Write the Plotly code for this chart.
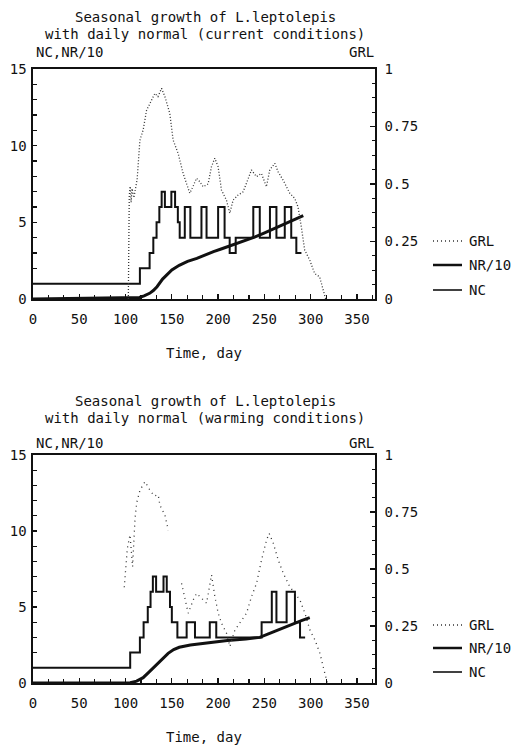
import plotly.graph_objects as go

W, H = 518, 746

# ---------------- data: current conditions (top) ----------------
nr_cur_days = [0, 115.5, 126, 130, 133.5, 136.5, 139, 142.5, 149.5, 153.5, 156.5, 158.5, 164, 170,
               182, 187.5, 200, 207, 212.5, 219, 238, 245, 256, 263, 272, 279, 284.5, 290]
nr_cur_vals = [1, 2, 3, 4, 5, 6, 7, 6, 7, 6, 5, 4, 6, 4,
               6, 4, 6, 4, 3, 4, 6, 4, 6, 4, 6, 4, 3, 3]

nc_cur_days = [0, 105, 115, 120, 126, 130, 134, 140, 145, 150, 158, 167, 177, 186, 195, 204,
               213, 222, 231, 240, 249, 258, 267, 276, 285, 292]
nc_cur_vals = [0, 0.05, 0.1, 0.2, 0.37, 0.55, 0.8, 1.3, 1.6, 1.9, 2.2, 2.45, 2.65, 2.88, 3.09, 3.28,
               3.46, 3.65, 3.85, 4.05, 4.28, 4.52, 4.76, 5.0, 5.22, 5.44]

grl_cur_days = [103, 103.5, 104, 105, 106, 107, 109, 112.5, 115.5, 119, 122.7, 126.3, 131.7, 135,
                138.9, 142.5, 147.8, 151.4, 156.8, 162.2, 166, 169.4, 173, 176.6, 180.2, 183.8,
                189.2, 192.8, 196.4, 200, 203.6, 209, 212.6, 216.2, 221.6, 227, 230.6, 236, 241.4,
                246.8, 252.2, 255.8, 261.2, 264.8, 270.2, 277.4, 282.7, 286.3, 289.9, 293.5, 298.9,
                304.3, 309.7, 313.3, 316.2]
grl_cur_vals = [0, 0.3, 0.45, 0.49, 0.42, 0.48, 0.44, 0.52, 0.69, 0.735, 0.82, 0.85, 0.894, 0.88,
                0.916, 0.88, 0.807, 0.691, 0.633, 0.546, 0.5, 0.46, 0.49, 0.525, 0.51, 0.488,
                0.5, 0.575, 0.612, 0.575, 0.474, 0.43, 0.373, 0.43, 0.452, 0.466, 0.503, 0.561, 0.532,
                0.546, 0.488, 0.561, 0.59, 0.553, 0.517, 0.46, 0.438, 0.401, 0.314, 0.213, 0.17,
                0.111, 0.096, 0.04, 0]

# ---------------- data: warming conditions (bottom) ----------------
nr_warm_days = [0, 105, 115.5, 119.5, 124, 127, 129.5, 133, 141, 144.5, 148, 150, 156, 166, 175,
                191, 198, 247, 258, 263, 274, 283, 288.5, 294]
nr_warm_vals = [1, 2, 3, 4, 5, 6, 7, 6, 7, 6, 5, 4, 3, 4, 3,
                4, 3, 4, 6, 4, 6, 4, 3, 3]

nc_warm_days = [0, 105, 112, 119, 125, 130, 135, 140, 146, 152, 158, 170, 190, 210, 230, 245,
                255, 265, 280, 290, 299]
nc_warm_vals = [0, 0.02, 0.12, 0.35, 0.7, 1.0, 1.3, 1.6, 1.95, 2.2, 2.35, 2.5, 2.65, 2.8, 2.9, 3.0,
                3.25, 3.5, 3.9, 4.1, 4.3]

grl_warm_days = [98.6, 101.9, 104.8, 107.6, 110.2, 112, 115.6, 121, 126.3, 131, 135.3, 137.1, 142.5,
                 146.1, None, 160.5, 164.1, 167.7, 173.1, 176.7, 180.3, 187.5, 192.9, 196.5, 200.1,
                 203.7, 209.1, 212.7, 218.1, 223.5, 230.7, 236.1, 241.5, 246.9, 252.3, 255.2, 259.6,
                 265, 270.4, 277.5, 283, 288.4, 293.8, 299.2, 304.6, 310, 313.6, 318]
grl_warm_vals = [0.42, 0.59, 0.65, 0.51, 0.72, 0.79, 0.846, 0.883, 0.846, 0.82, 0.825, 0.78, 0.737,
                 0.67, None, 0.437, 0.364, 0.306, 0.364, 0.393, 0.379, 0.35, 0.474, 0.379, 0.306,
                 0.262, 0.218, 0.16, 0.232, 0.262, 0.306, 0.379, 0.437, 0.539, 0.627, 0.656, 0.613,
                 0.539, 0.481, 0.422, 0.393, 0.364, 0.306, 0.232, 0.189, 0.13, 0.07, 0]

x_ticks = [0, 50, 100, 150, 200, 250, 300, 350]
left_ticks = [0, 5, 10, 15]
right_ticks = [0, 0.25, 0.5, 0.75, 1]
right_labels = ["0", "0.25", "0.5", "0.75", "1"]

titles = [("Seasonal growth of L.leptolepis", "with daily normal (current conditions)"),
          ("Seasonal growth of L.leptolepis", "with daily normal (warming conditions)")]
legend_names = ["GRL", "NR/10", "NC"]

FONT = "DejaVu Sans Mono"
FS = 14
INK = "#111111"


def px(x):
    return x / W


def py(y):
    return 1 - y / H


fig = go.Figure()

# top panel traces
fig.add_trace(go.Scatter(x=grl_cur_days, y=grl_cur_vals, xaxis="x", yaxis="y2", mode="lines",
                         line=dict(color="#333333", width=1.3, dash="1px,2px"), showlegend=False))
fig.add_trace(go.Scatter(x=nr_cur_days, y=nr_cur_vals, xaxis="x", yaxis="y", mode="lines",
                         line=dict(color=INK, width=2, shape="hv"), showlegend=False))
fig.add_trace(go.Scatter(x=nc_cur_days, y=nc_cur_vals, xaxis="x", yaxis="y", mode="lines",
                         line=dict(color=INK, width=3), showlegend=False))

# bottom panel traces
fig.add_trace(go.Scatter(x=grl_warm_days, y=grl_warm_vals, xaxis="x2", yaxis="y4", mode="lines",
                         line=dict(color="#333333", width=1.3, dash="1px,4px"), showlegend=False,
                         connectgaps=False))
fig.add_trace(go.Scatter(x=nr_warm_days, y=nr_warm_vals, xaxis="x2", yaxis="y3", mode="lines",
                         line=dict(color=INK, width=2, shape="hv"), showlegend=False))
fig.add_trace(go.Scatter(x=nc_warm_days, y=nc_warm_vals, xaxis="x2", yaxis="y3", mode="lines",
                         line=dict(color=INK, width=3), showlegend=False))

xdom = [px(33), px(375)]
top_dom = [py(299), py(69)]
bot_dom = [py(683), py(455)]

xcommon = dict(range=[0, 369.5], domain=xdom, tickvals=x_ticks, ticks="inside", ticklen=5,
               tickwidth=1.3, tickcolor=INK, showline=True, linecolor=INK, linewidth=1.6,
               mirror=True, showgrid=False, zeroline=False, ticklabelstandoff=7, automargin=False,
               minor=dict(ticks="inside", dtick=50 / 3, tick0=0, ticklen=4, tickcolor=INK,
                          tickwidth=1.1, showgrid=False),
               tickfont=dict(family=FONT, size=FS, color=INK))
yleft = dict(range=[0, 15], tickvals=left_ticks, ticks="inside", ticklen=4, tickwidth=1.2,
             tickcolor=INK, showline=True, linecolor=INK, linewidth=1.6, showgrid=False,
             zeroline=False, ticklabelstandoff=2, automargin=False,
             minor=dict(ticks="inside", dtick=1, ticklen=4, tickcolor=INK, tickwidth=1.1,
                        showgrid=False),
             tickfont=dict(family=FONT, size=FS, color=INK))
yright = dict(range=[0, 1], side="right", tickvals=right_ticks, ticktext=right_labels,
              ticks="inside", ticklen=5, tickwidth=1.3, tickcolor=INK, showline=True,
              linecolor=INK, linewidth=1.6, showgrid=False, zeroline=False, ticklabelstandoff=5,
              automargin=False,
              minor=dict(ticks="inside", dtick=0.0625, ticklen=3, tickcolor=INK, tickwidth=1.1,
                         showgrid=False),
              tickfont=dict(family=FONT, size=FS, color=INK))

fig.update_layout(
    width=W, height=H, margin=dict(l=0, r=0, t=0, b=0, autoexpand=False),
    paper_bgcolor="white", plot_bgcolor="white", showlegend=False,
    font=dict(family=FONT, size=FS, color=INK),
    xaxis=dict(xcommon, anchor="y"),
    yaxis=dict(yleft, domain=top_dom, anchor="x"),
    yaxis2=dict(yright, overlaying="y", anchor="x"),
    xaxis2=dict(xcommon, anchor="y3"),
    yaxis3=dict(yleft, domain=bot_dom, anchor="x2"),
    yaxis4=dict(yright, overlaying="y3", anchor="x2"),
)

annotations = []
shapes = []
panels = [
    dict(t1=17, t2=34, lab=52, xt=353, leg=[241, 265, 290]),
    dict(t1=401, t2=418, lab=443, xt=737, leg=[625, 648, 672]),
]
leg_styles = [dict(color="#333333", width=1.3, dash="1px,3px"),
              dict(color=INK, width=2.5),
              dict(color=INK, width=1.6)]
for (l1, l2), p in zip(titles, panels):
    for txt, yy in ((l1, p["t1"]), (l2, p["t2"])):
        annotations.append(dict(text=txt, x=px(205), y=py(yy), xref="paper", yref="paper",
                                xanchor="center", yanchor="middle", showarrow=False,
                                font=dict(family=FONT, size=FS, color=INK)))
    annotations.append(dict(text="NC,NR/10", x=px(34), y=py(p["lab"]), xref="paper", yref="paper",
                            xanchor="left", yanchor="middle", showarrow=False,
                            font=dict(family=FONT, size=FS, color=INK)))
    annotations.append(dict(text="GRL", x=px(376), y=py(p["lab"]), xref="paper", yref="paper",
                            xanchor="right", yanchor="middle", showarrow=False,
                            font=dict(family=FONT, size=FS, color=INK)))
    annotations.append(dict(text="Time, day", x=px(204), y=py(p["xt"]), xref="paper", yref="paper",
                            xanchor="center", yanchor="middle", showarrow=False,
                            font=dict(family=FONT, size=FS, color=INK)))
    for name, yy, st in zip(legend_names, p["leg"], leg_styles):
        shapes.append(dict(type="line", xref="paper", yref="paper", x0=px(433), x1=px(462),
                           y0=py(yy), y1=py(yy), line=st))
        annotations.append(dict(text=name, x=px(467), y=py(yy), xref="paper", yref="paper",
                                xanchor="left", yanchor="middle", showarrow=False,
                                font=dict(family=FONT, size=FS, color=INK)))

fig.update_layout(annotations=annotations, shapes=shapes)
fig.write_html("out.html", config={"displayModeBar": False, "staticPlot": True},
               post_script="document.body.style.margin='0px';document.body.style.overflow='hidden';")
